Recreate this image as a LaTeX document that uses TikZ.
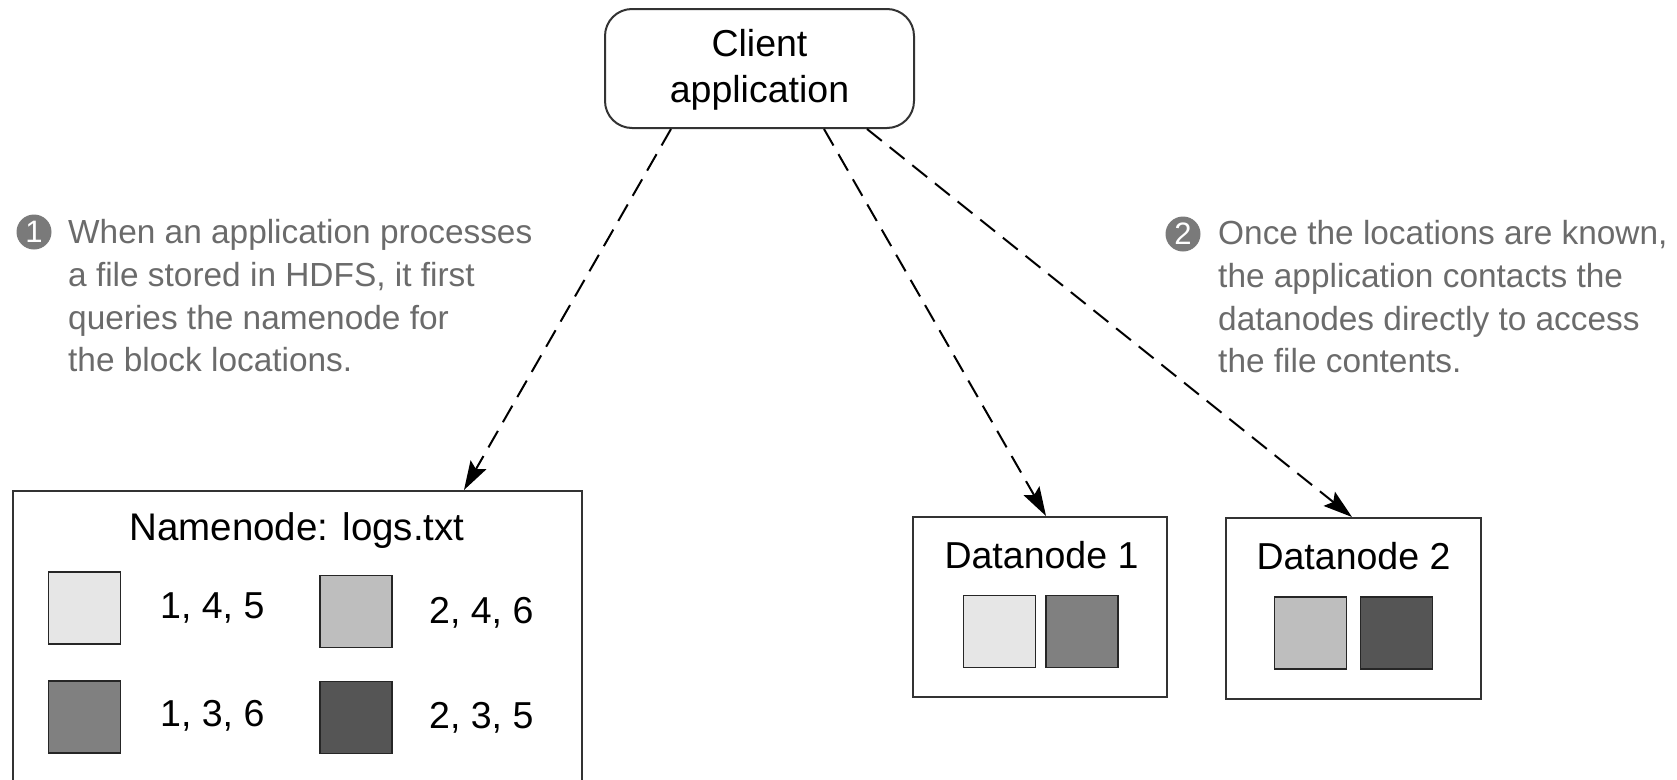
\documentclass[tikz,border=0pt]{standalone}
\usepackage{fontspec}
\setmainfont{Liberation Sans}
\usetikzlibrary{arrows.meta}

\definecolor{notegray}{HTML}{6B6B6B}
\definecolor{cuegray}{HTML}{7A7A7A}
\definecolor{edge}{HTML}{333333}
\definecolor{blkA}{HTML}{E6E6E6}
\definecolor{blkB}{HTML}{BEBEBE}
\definecolor{blkC}{HTML}{808080}
\definecolor{blkD}{HTML}{555555}

\begin{document}
\begin{tikzpicture}[x=1pt, y=-1pt,
  box/.style={draw=edge, line width=2pt, fill=white, inner sep=0pt},
  block/.style={draw=black!85, line width=1.8pt, minimum width=72pt,
                minimum height=72pt, inner sep=0pt},
  txt/.style={inner sep=0pt, anchor=base, font=\fontsize{37.5}{39}\selectfont},
  note/.style={inner sep=0pt, anchor=north west, align=left, text=notegray,
               font=\fontsize{33.4}{42.8}\selectfont},
  cue/.style={circle, fill=cuegray, text=white, inner sep=0pt,
              minimum size=35pt, font=\fontsize{31}{31}\selectfont},
  conn/.style={draw=black, line width=2pt, dash pattern=on 19pt off 10pt,
               -{Stealth[length=29pt, width=18pt, inset=5pt]}}
]
\useasboundingbox (0,0) rectangle (1677,779);

% client
\node[box, rounded corners=27pt, minimum width=309pt, minimum height=119pt]
  (client) at (759.5,68.5) {};
\node[txt] (clientA) at (759.5,56) {Client};
\node[txt] (clientB) at (759.5,102) {application};

% namenode with its block table
\node[box, minimum width=569pt, minimum height=299pt] (namenode) at (297.5,640.5) {};
\node[txt, font=\fontsize{38.5}{40}\selectfont] (nntitle) at (297,540) {Namenode: logs.txt};
\node[block, fill=blkA] (nnA) at (84.5,608) {};
\node[block, fill=blkB] (nnB) at (356,611.5) {};
\node[block, fill=blkC] (nnC) at (84.5,717) {};
\node[block, fill=blkD] (nnD) at (356,717.5) {};
\node[txt, anchor=base west] (nnAt) at (160,618) {1, 4, 5};
\node[txt, anchor=base west] (nnBt) at (429,623) {2, 4, 6};
\node[txt, anchor=base west] (nnCt) at (160,726) {1, 3, 6};
\node[txt, anchor=base west] (nnDt) at (429,728) {2, 3, 5};

% datanodes
\node[box, minimum width=254pt, minimum height=180pt] (dn1) at (1040,607) {};
\node[txt] (dn1t) at (1041.5,568) {Datanode 1};
\node[block, fill=blkA] (dn1a) at (999.5,631.5) {};
\node[block, fill=blkC] (dn1b) at (1082,631.5) {};

\node[box, minimum width=255pt, minimum height=181pt] (dn2) at (1353.5,608.5) {};
\node[txt] (dn2t) at (1353.5,569) {Datanode 2};
\node[block, fill=blkB] (dn2a) at (1310.5,633) {};
\node[block, fill=blkD] (dn2b) at (1396.5,633) {};

% requests
\draw[conn] ([xshift=67pt]client.south west) -- ([xshift=452pt]namenode.north west);
\draw[conn] ([xshift=220pt]client.south west) -- ([xshift=134pt]dn1.north west);
\draw[conn] ([xshift=263pt]client.south west) -- ([xshift=127pt]dn2.north west);

% annotations
\node[cue] (cue1) at (34,232) {1};
\node[note] (note1) at (68,219) {When an application processes\\a file stored in HDFS, it first\\queries the namenode for\\the block locations.};
\node[cue] (cue2) at (1183,234) {2};
\node[note] (note2) at (1218,220) {Once the locations are known,\\the application contacts the\\datanodes directly to access\\the file contents.};
\end{tikzpicture}
\end{document}
